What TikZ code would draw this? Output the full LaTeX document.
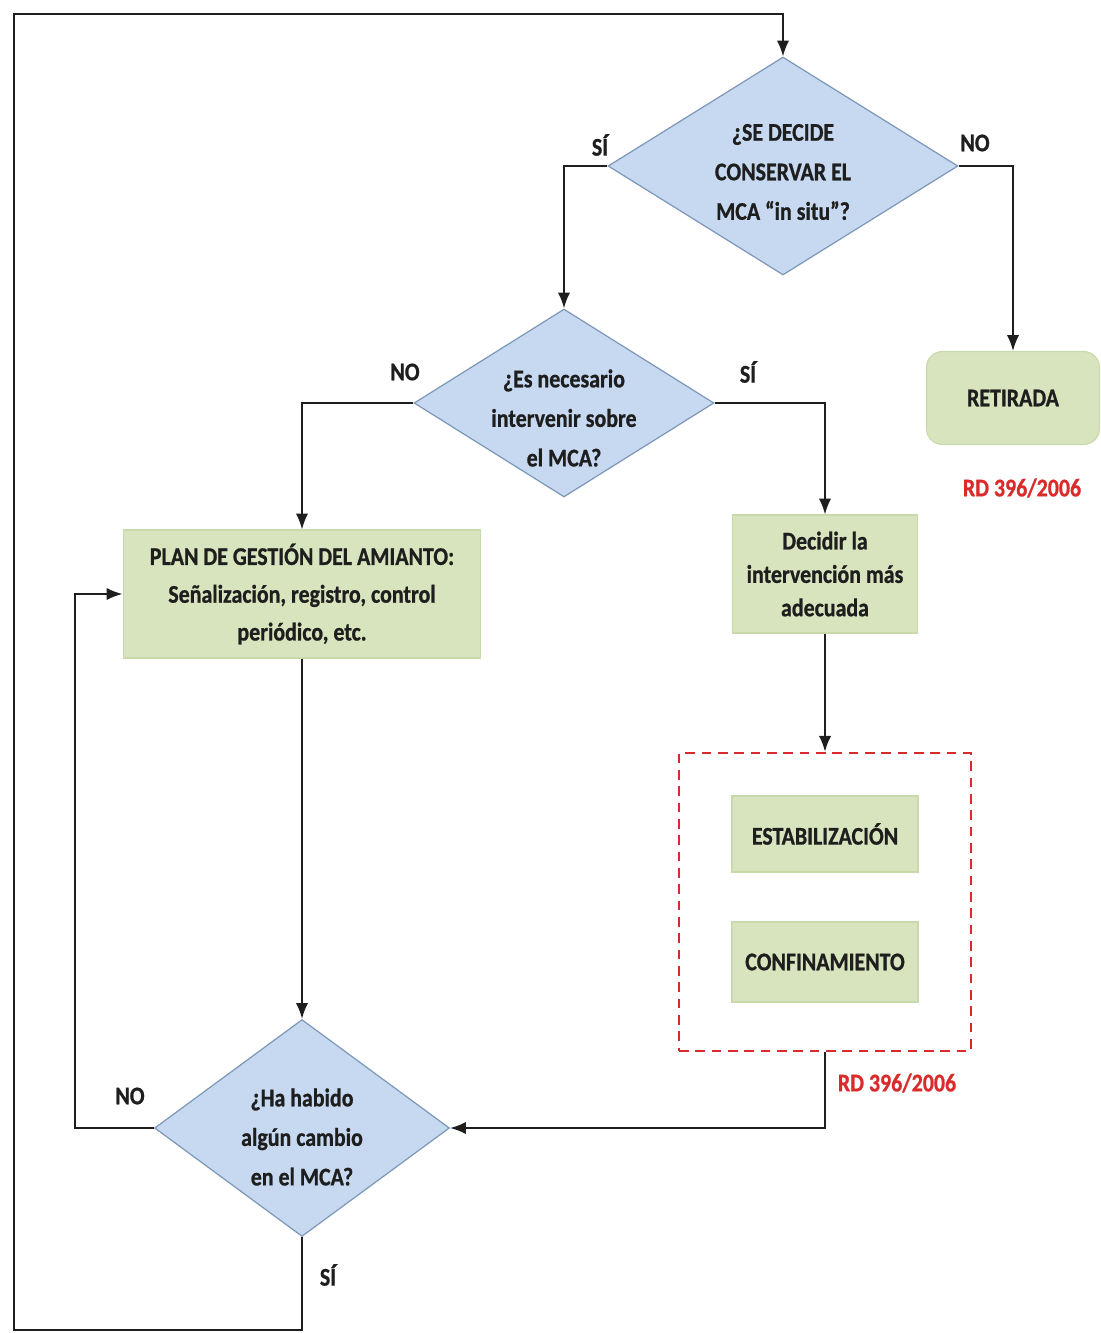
\documentclass[tikz,border=0pt]{standalone}
\usepackage{fontspec}
\setmainfont{Carlito}[FakeStretch=0.86, BoldFeatures={FakeBold=0.8}]
\usetikzlibrary{shapes.geometric,arrows.meta}
\definecolor{diafill}{HTML}{C6D9F0}
\definecolor{diaedge}{HTML}{7E98B8}
\definecolor{boxfill}{HTML}{D7E4BD}
\definecolor{boxedge}{HTML}{C8D9AA}
\definecolor{lawred}{HTML}{D92B2B}
\definecolor{ink}{HTML}{1E1E1E}
\begin{document}
\begin{tikzpicture}[x=0.02cm,y=-0.02cm,
  txt/.style={font=\fontsize{14.5}{22.5}\selectfont\bfseries, text=ink, align=center},
  dia/.style={shape=diamond, draw=diaedge, line width=0.7pt, fill=diafill, inner sep=0pt},
  gbox/.style={draw=boxedge, line width=0.6pt, fill=boxfill, inner sep=0pt, txt},
  lbl/.style={font=\fontsize{14.5}{17}\selectfont\bfseries, text=ink},
  law/.style={font=\fontsize{14.5}{17}\selectfont\bfseries, text=lawred},
  conn/.style={draw=ink, line width=1.1pt},
  arr/.style={conn, -{Latex[length=9pt,width=7pt]}}]
\useasboundingbox (0,0) rectangle (1100,1333);

% decision diamonds
\node[dia, minimum width=7cm, minimum height=4.36cm] (d1) at (783,166) {};
\node[txt] (d1t) at (783,172) {¿SE DECIDE\\CONSERVAR EL\\MCA “in situ”?};
\node[dia, minimum width=6cm, minimum height=3.76cm] (d2) at (564,403) {};
\node[txt] (d2t) at (564,418) {¿Es necesario\\intervenir sobre\\el MCA?};
\node[dia, minimum width=5.9cm, minimum height=4.34cm] (d3) at (302,1128) {};
\node[txt] (d3t) at (302,1137) {¿Ha habido\\algún cambio\\en el MCA?};

% action boxes
\node[gbox, rounded corners=9pt, minimum width=3.46cm, minimum height=1.86cm] (ret) at (1013,398) {RETIRADA};
\node[gbox, minimum width=7.16cm, minimum height=2.56cm, font=\fontsize{14.5}{21.5}\selectfont\bfseries] (plan) at (302,594)
  {PLAN DE GESTIÓN DEL AMIANTO:\\Señalización, registro, control\\periódico, etc.};
\node[gbox, minimum width=3.7cm, minimum height=2.36cm, font=\fontsize{14.5}{19}\selectfont\bfseries] (dec) at (825,574)
  {Decidir la\\intervención más\\adecuada};
\node[draw=lawred, line width=1.4pt, dash pattern=on 5.5pt off 3.8pt, minimum width=5.84cm, minimum height=5.96cm, inner sep=0pt] (grp) at (825,902) {};
\node[gbox, minimum width=3.72cm, minimum height=1.52cm] (est) at (825,834) {ESTABILIZACIÓN};
\node[gbox, minimum width=3.72cm, minimum height=1.6cm] (conf) at (825,962) {CONFINAMIENTO};

% legal references
\node[law] (rd1) at (1022,488) {RD 396/2006};
\node[law] (rd2) at (897,1083) {RD 396/2006};

% branch labels
\node[lbl] (l1) at (600,145) {SÍ};
\node[lbl] (l2) at (975,143) {NO};
\node[lbl] (l3) at (405,372) {NO};
\node[lbl] (l4) at (748,372) {SÍ};
\node[lbl] (l5) at (130,1096) {NO};
\node[lbl] (l6) at (328,1275) {SÍ};

% loop corners
\coordinate (c1) at (14,1330);
\coordinate (c2) at (14,14);
\coordinate (c3) at (75,900);

% connectors
\draw[arr] (d3.south) |- (c1) -- (c2) -| (d1.north);
\draw[arr] (d1.west) -| (d2.north);
\draw[arr] (d1.east) -| (ret.north);
\draw[arr] (d2.west) -| (plan.north);
\draw[arr] (d2.east) -| (dec.north);
\draw[arr] (dec.south) -- (grp.north);
\draw[arr] (grp.south) |- (d3.east);
\draw[arr] (plan.south) -- (d3.north);
\draw[arr] (d3.west) -| (c3) |- (plan.west);
\end{tikzpicture}
\end{document}
